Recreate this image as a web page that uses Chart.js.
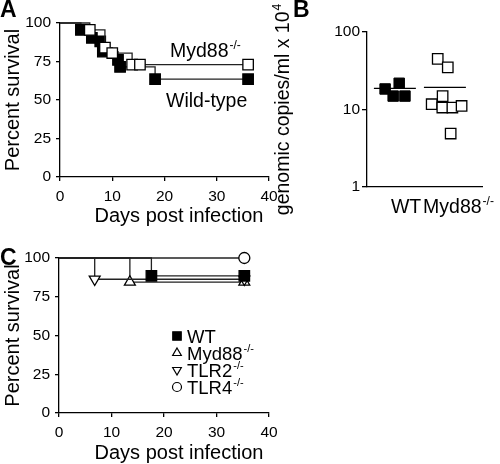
<!DOCTYPE html>
<html>
<head>
<meta charset="utf-8">
<script src="https://cdn.jsdelivr.net/npm/chart.js@4/dist/chart.umd.min.js"></script>
<style>
body { margin: 0; background: #fff; width: 500px; height: 464px; position: relative; overflow: hidden; }
canvas { position: absolute; }
</style>
</head>
<body>
<canvas id="panelA" width="285" height="232" style="left:0;top:0"></canvas>
<canvas id="panelB" width="245" height="232" style="left:255px;top:0"></canvas>
<canvas id="panelC" width="285" height="232" style="left:0;top:232px"></canvas>
<script>
// ---- data ----

// A: survival (percent) vs days post infection
var daysA_wt  = [0, 4, 6.1, 7.7, 8.2, 11.1, 11.5, 18.2, 36];
var survA_wt  = [100, 95.5, 90.3, 88, 81.4, 76, 71.5, 63.5, 63.5];
var daysA_myd = [0, 5.7, 8.6, 10, 13.8, 15.3, 36];
var survA_myd = [100, 95.5, 84, 80.5, 73, 73, 73];

// B: genomic copies/ml x 10^4 (log scale), x = jitter position in group
var groupNames = ['WT', 'Myd88'];
var posB_wt   = [0.63, 1.12, 0.91, 1.32];
var copiesB_wt  = [18.4, 21.8, 14.9, 14.9];
var posB_myd  = [2.46, 2.81, 2.63, 2.25, 2.62, 2.97, 3.29, 2.91];
var copiesB_myd = [45, 35, 14.9, 11.7, 10.6, 10.6, 11.1, 4.9];
var meanB = [18.7, 19.3];
var meanSpanB = [[0.24, 1.70], [1.98, 3.44]];
var yTicksB = [1, 10, 100];

// C: survival of the TLR knockouts
var daysC_wt   = [0, 17.6, 35.3];
var survC_wt   = [100, 88.5, 88.5];
var daysC_myd  = [0, 13.5, 35.3];
var survC_myd  = [100, 84.5, 84.5];
var daysC_tlr2 = [0, 6.8, 35.3];
var survC_tlr2 = [100, 86.3, 86.3];
var daysC_tlr4 = [0, 35.3];
var survC_tlr4 = [100, 100];

var FONT = "'Liberation Sans', Arial, sans-serif";
Chart.defaults.font.family = FONT;
Chart.defaults.color = '#000';
Chart.defaults.animation = false;

function pts(xs, ys) {
    return xs.map(function(x, i) { return {x: x, y: ys[i]}; });
}

function drawSup(ctx, base, sup, x, y, size, align) {
    var supSize = Math.round(size * 0.62);
    ctx.font = size + 'px ' + FONT;
    var wb = ctx.measureText(base).width;
    ctx.font = supSize + 'px ' + FONT;
    var ws = ctx.measureText(sup).width;
    var start = align === 'center' ? x - (wb + ws) / 2 : x;
    ctx.textAlign = 'left';
    ctx.textBaseline = 'alphabetic';
    ctx.fillStyle = '#000';
    ctx.font = size + 'px ' + FONT;
    ctx.fillText(base, start, y);
    ctx.font = supSize + 'px ' + FONT;
    ctx.fillText(sup, start + wb + 1, y - size * 0.42);
}

function panelLetter(ctx, letter, x, y) {
    ctx.save();
    ctx.font = 'bold 23px ' + FONT;
    ctx.fillStyle = '#000';
    ctx.textAlign = 'left';
    ctx.textBaseline = 'alphabetic';
    ctx.fillText(letter, x, y);
    ctx.restore();
}

// x title sits a bit right of the axis centre in the original
function daysTitle(ctx, y) {
    ctx.save();
    ctx.font = '20px ' + FONT;
    ctx.fillStyle = '#000';
    ctx.textAlign = 'center';
    ctx.textBaseline = 'alphabetic';
    ctx.fillText('Days post infection', 179, y);
    ctx.restore();
}

// step line with a marker on every event (not on day 0)
function survSet(xs, ys, style, fill, radius, rot) {
    return {
        data: pts(xs, ys),
        stepped: true,
        clip: false,
        borderColor: '#222',
        borderWidth: 1.3,
        pointStyle: style,
        rotation: rot || 0,
        pointRadius: function(c) { return c.dataIndex === 0 ? 0 : radius; },
        pointBackgroundColor: fill,
        pointBorderColor: '#000',
        pointBorderWidth: 1.3
    };
}

function survScales(yWidth, xHeight) {
    return {
        x: {
            type: 'linear', min: 0, max: 40,
            ticks: { stepSize: 10, font: { size: 15.5 }, padding: 6, maxRotation: 0 },
            grid: { drawOnChartArea: false, tickLength: 4, color: '#000', lineWidth: 1.3 },
            border: { color: '#000', width: 1.3 },
            afterFit: function(s) { s.height = xHeight; }
        },
        y: {
            min: 0, max: 100,
            ticks: { stepSize: 25, font: { size: 15.5 }, padding: 5 },
            grid: { drawOnChartArea: false, tickLength: 4, color: '#000', lineWidth: 1.3 },
            border: { color: '#000', width: 1.3 },
            title: { display: true, text: 'Percent survival', font: { size: 20 },
                     padding: { top: 1, bottom: 0 } },
            afterFit: function(s) { s.width = yWidth; }
        }
    };
}

var noExtras = { legend: { display: false }, tooltip: { enabled: false } };

// ---- panel A ----
new Chart(document.getElementById('panelA'), {
    type: 'line',
    data: {
        datasets: [
            survSet(daysA_myd, survA_myd, 'rect', '#fff', 7.4),
            survSet(daysA_wt, survA_wt, 'rect', '#000', 7.4)
        ]
    },
    options: {
        responsive: false,
        layout: { padding: { left: 0, top: 23, right: 16, bottom: 0 } },
        scales: survScales(60, 55),
        plugins: noExtras
    },
    plugins: [{
        id: 'textA',
        afterDraw: function(chart) {
            var ctx = chart.ctx;
            ctx.save();
            panelLetter(ctx, 'A', 0, 17);
            drawSup(ctx, 'Myd88', '-/-', 170, 57, 19.5);
            ctx.font = '19.5px ' + FONT;
            ctx.fillText('Wild-type', 166, 107);
            daysTitle(ctx, 222);
            ctx.restore();
        }
    }]
});

// ---- panel B ----
new Chart(document.getElementById('panelB'), {
    type: 'scatter',
    data: {
        datasets: [
            { data: pts(posB_wt, copiesB_wt), pointStyle: 'rect', pointRadius: 7.4,
              pointBackgroundColor: '#000', pointBorderColor: '#000', pointBorderWidth: 1 },
            { data: pts(posB_myd, copiesB_myd), pointStyle: 'rect', pointRadius: 7.4,
              pointBackgroundColor: '#fff', pointBorderColor: '#000', pointBorderWidth: 1.3 },
            { data: pts(meanSpanB[0], [meanB[0], meanB[0]]), showLine: true, pointRadius: 0,
              borderColor: '#000', borderWidth: 1.3 },
            { data: pts(meanSpanB[1], [meanB[1], meanB[1]]), showLine: true, pointRadius: 0,
              borderColor: '#000', borderWidth: 1.3 }
        ]
    },
    options: {
        responsive: false,
        layout: { padding: { left: 0, top: 32, right: 18, bottom: 0 } },
        scales: {
            x: {
                type: 'linear', min: 0, max: 4,
                ticks: { display: false },
                grid: { drawOnChartArea: false, drawTicks: false },
                border: { color: '#000', width: 1.3 },
                afterFit: function(s) { s.height = 45; }
            },
            y: {
                type: 'logarithmic', min: 1, max: 100,
                afterBuildTicks: function(s) { s.ticks = yTicksB.map(function(v) { return {value: v}; }); },
                ticks: { font: { size: 15.5 }, padding: 2, callback: function(v) { return String(v); } },
                grid: { drawOnChartArea: false, tickLength: 5, color: '#000', lineWidth: 1.3 },
                border: { color: '#000', width: 1.3 },
                afterFit: function(s) { s.width = 112; }
            }
        },
        plugins: noExtras
    },
    plugins: [{
        id: 'textB',
        afterDraw: function(chart) {
            var ctx = chart.ctx;
            var xs = chart.scales.x;
            ctx.save();
            panelLetter(ctx, 'B', 38, 17);
            // rotated y title with superscript exponent
            ctx.save();
            ctx.translate(34, 110);
            ctx.rotate(-Math.PI / 2);
            drawSup(ctx, 'genomic copies/ml x 10', '4', 0, 0, 19.5, 'center');
            ctx.restore();
            // group labels under the axis
            ctx.font = '19.5px ' + FONT;
            ctx.textAlign = 'center';
            ctx.fillText(groupNames[0], xs.getPixelForValue(1.36), 213);
            drawSup(ctx, groupNames[1], '-/-', xs.getPixelForValue(1.95), 213, 19.5);
            ctx.restore();
        }
    }]
});

// ---- panel C ----
var legendC = [
    { label: 'WT', sup: '', style: 'rect', fill: '#000', r: 6, rot: 0 },
    { label: 'Myd88', sup: '-/-', style: 'triangle', fill: '#fff', r: 5, rot: 0 },
    { label: 'TLR2', sup: '-/-', style: 'triangle', fill: '#fff', r: 5, rot: 180 },
    { label: 'TLR4', sup: '-/-', style: 'circle', fill: '#fff', r: 4.5, rot: 0 }
];

new Chart(document.getElementById('panelC'), {
    type: 'line',
    data: {
        datasets: [
            survSet(daysC_wt, survC_wt, 'rect', '#000', 7.4),
            survSet(daysC_tlr2, survC_tlr2, 'triangle', '#fff', 6.3, 180),
            survSet(daysC_myd, survC_myd, 'triangle', '#fff', 6.3),
            survSet(daysC_tlr4, survC_tlr4, 'circle', '#fff', 5.5)
        ]
    },
    options: {
        responsive: false,
        layout: { padding: { left: 0, top: 26, right: 16, bottom: 0 } },
        scales: survScales(59, 51),
        plugins: noExtras
    },
    plugins: [{
        id: 'textC',
        afterDraw: function(chart) {
            var ctx = chart.ctx;
            ctx.save();
            panelLetter(ctx, 'C', 0, 33);
            legendC.forEach(function(item, i) {
                var y = 104 + i * 17;
                ctx.fillStyle = item.fill;
                ctx.strokeStyle = '#000';
                ctx.lineWidth = 1.2;
                Chart.helpers.drawPoint(ctx, { pointStyle: item.style, radius: item.r,
                    rotation: item.rot, borderWidth: 1.2 }, 177, y);
                if (item.sup) {
                    drawSup(ctx, item.label, item.sup, 187, y + 6.5, 18.5);
                } else {
                    ctx.fillStyle = '#000';
                    ctx.font = '18.5px ' + FONT;
                    ctx.textAlign = 'left';
                    ctx.textBaseline = 'alphabetic';
                    ctx.fillText(item.label, 187, y + 6.5);
                }
            });
            daysTitle(ctx, 227);
            ctx.restore();
        }
    }]
});
</script>
</body>
</html>
